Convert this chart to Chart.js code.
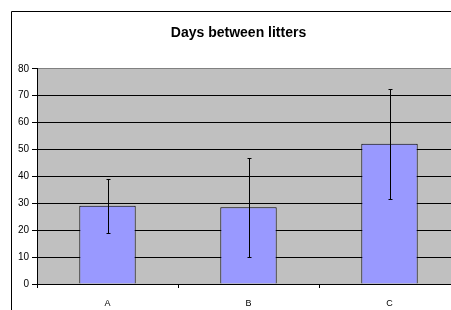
<!DOCTYPE html>
<html>
<head>
<meta charset="utf-8">
<script src="https://cdn.jsdelivr.net/npm/chart.js@4/dist/chart.umd.min.js"></script>
<style>
  html, body { margin: 0; padding: 0; overflow: hidden; background: #fff; width: 451px; height: 310px; }
  canvas { display: block; }
</style>
</head>
<body>
<canvas id="c" width="460" height="310"></canvas>
<script>
const categories = ['A', 'B', 'C'];
const meanDays = [29.1, 28.5, 52.1];
const errDays = [10.0, 18.3, 20.4];
const yTicks = [0, 10, 20, 30, 40, 50, 60, 70, 80];
const titleText = 'Days between litters';

const bgPlugin = {
  id: 'bg',
  beforeDraw(chart) {
    const { ctx, chartArea: a } = chart;
    ctx.save();
    ctx.fillStyle = '#C0C0C0';
    ctx.fillRect(a.left, a.top, a.right - a.left, a.bottom - a.top);
    // outer chart border (left and top)
    ctx.strokeStyle = '#000';
    ctx.lineWidth = 1;
    ctx.beginPath();
    ctx.moveTo(11.5, chart.height);
    ctx.lineTo(11.5, 11.5);
    ctx.lineTo(chart.width, 11.5);
    ctx.stroke();
    ctx.restore();
  }
};

const errPlugin = {
  id: 'errbars',
  afterDatasetsDraw(chart) {
    const { ctx } = chart;
    const meta = chart.getDatasetMeta(0);
    const ys = chart.scales.y;
    ctx.save();
    ctx.strokeStyle = '#000';
    ctx.lineWidth = 1;
    meta.data.forEach((bar, i) => {
      const x = Math.round(bar.x) + 0.5;
      const yHi = Math.round(ys.getPixelForValue(meanDays[i] + errDays[i])) + 0.5;
      const yLo = Math.round(ys.getPixelForValue(meanDays[i] - errDays[i])) + 0.5;
      ctx.beginPath();
      ctx.moveTo(x, yHi); ctx.lineTo(x, yLo);
      ctx.moveTo(x - 2, yHi); ctx.lineTo(x + 2, yHi);
      ctx.moveTo(x - 2, yLo); ctx.lineTo(x + 2, yLo);
      ctx.stroke();
    });
    ctx.restore();
  }
};

new Chart(document.getElementById('c'), {
  type: 'bar',
  data: {
    labels: categories,
    datasets: [{
      data: meanDays,
      backgroundColor: '#9999FF',
      borderColor: '#000',
      borderWidth: 1,
      barPercentage: 0.4,
      categoryPercentage: 1.0
    }]
  },
  options: {
    responsive: false,
    animation: false,
    events: [],
    layout: { padding: { left: 17, right: 0, top: 0, bottom: 0 } },
    plugins: {
      legend: { display: false },
      tooltip: { enabled: false },
      title: {
        display: true,
        text: titleText,
        color: '#000',
        font: { family: 'Liberation Sans, Arial, sans-serif', size: 14, weight: 'bold' },
        padding: { top: 25, bottom: 27 }
      }
    },
    scales: {
      x: {
        afterFit(s) { s.height = 26; },
        grid: { drawOnChartArea: false, drawTicks: true, tickLength: 4, tickColor: '#000', offset: true },
        border: { display: true, color: '#000', width: 1 },
        ticks: {
          color: '#000',
          padding: 10,
          font: { family: 'Liberation Sans, Arial, sans-serif', size: 9 }
        }
      },
      y: {
        min: 0,
        max: 80,
        afterFit(s) { s.width = 20; },
        afterBuildTicks(s) { s.ticks = yTicks.map(v => ({ value: v })); },
        grid: {
          color: (c) => (c.tick && c.tick.value === 80) ? '#808080' : '#000',
          tickColor: '#000',
          tickLength: 5,
          lineWidth: 1
        },
        border: { display: true, color: '#000', width: 1 },
        ticks: {
          color: '#000',
          padding: 3,
          font: { family: 'Liberation Sans, Arial, sans-serif', size: 10 }
        }
      }
    }
  },
  plugins: [bgPlugin, errPlugin]
});
</script>
</body>
</html>
